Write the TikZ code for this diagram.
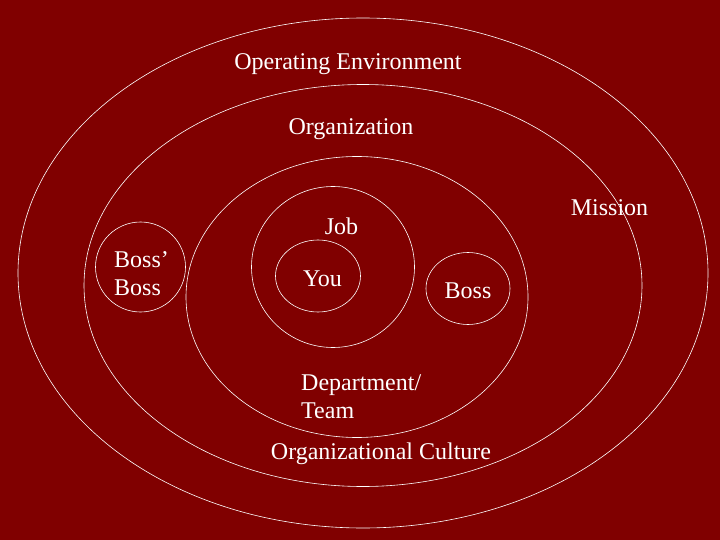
\documentclass[tikz,border=0pt]{standalone}
\usepackage{fontspec}
\setmainfont{Liberation Serif}
\usetikzlibrary{shapes.geometric}
\definecolor{slidered}{RGB}{128,0,0}
\tikzset{
  ring/.style={draw=white, line width=0.6pt, ellipse, inner sep=0pt},
  lbl/.style={text=white, font=\fontsize{24}{28}\selectfont, inner sep=0pt}
}
\begin{document}
\begin{tikzpicture}[x=1pt,y=-1pt]
\fill[slidered] (0,0) rectangle (720,540);
\useasboundingbox (0,0) rectangle (720,540);
\node[ring, minimum width=690, minimum height=510] (env) at (363,273) {};
\node[ring, minimum width=558, minimum height=402] (org) at (363,285.5) {};
\node[ring, minimum width=342, minimum height=281] (dept) at (357,297) {};
\node[ring, minimum width=163, minimum height=161] (job) at (333,267) {};
\node[ring, minimum width=85, minimum height=72] (you) at (318,276) {};
\node[ring, minimum width=84, minimum height=72] (boss) at (468,288.5) {};
\node[ring, minimum width=90, minimum height=90] (bossboss) at (140.5,267) {};
\node[lbl] (envlbl) at (348,64.5) {Operating Environment};
\node[lbl] (orglbl) at (351,129.5) {Organization};
\node[lbl] (mission) at (609.5,208) {Mission};
\node[lbl] (joblbl) at (341.5,226) {Job};
\node[lbl] (youlbl) at (322.5,279) {You};
\node[lbl] (bosslbl) at (468,291) {Boss};
\node[lbl, align=left, anchor=west] (bbosslbl) at (114,274) {Boss'\\Boss};
\node[lbl, align=left, anchor=west] (deptlbl) at (301,396.5) {Department/\\Team};
\node[lbl] (culture) at (381,453.5) {Organizational Culture};
\end{tikzpicture}
\end{document}
